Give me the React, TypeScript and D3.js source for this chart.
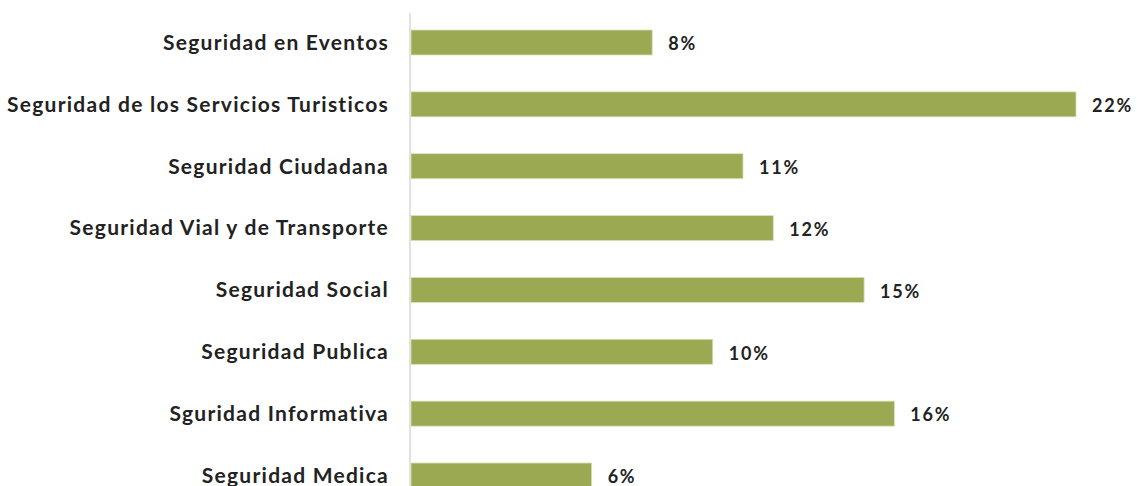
import React from "react";
import * as d3 from "d3";

const categories = [
  "Seguridad en Eventos",
  "Seguridad de los Servicios Turisticos",
  "Seguridad Ciudadana",
  "Seguridad Vial y de Transporte",
  "Seguridad Social",
  "Seguridad Publica",
  "Sguridad Informativa",
  "Seguridad Medica",
];
const values = [8, 22, 11, 12, 15, 10, 16, 6];
const valueLabels = ["8%", "22%", "11%", "12%", "15%", "10%", "16%", "6%"];

const W = 1137;
const H = 486;
const x0 = 410;

export default function App() {
  const x = d3.scaleLinear().domain([0, 22]).range([x0, 1076]);
  const y = d3
    .scaleBand<string>()
    .domain(categories)
    .range([30, 488])
    .paddingInner(0.596)
    .paddingOuter(0);
  const font = "Lato, 'Open Sans', sans-serif";
  return (
    <svg
      width={W}
      height={H}
      style={{ position: "absolute", left: 0, top: 0, background: "#fff" }}
    >
      <line x1={x0} x2={x0} y1={13} y2={H} stroke="#d9d9d9" strokeWidth={1.5} />
      {categories.map((c, i) => {
        const yy = y(c)!;
        const bw = y.bandwidth();
        return (
          <g key={c}>
            <rect
              x={x(0) + 1}
              y={yy}
              width={x(values[i]) - x(0) - 1}
              height={bw}
              fill="#9BAA52"
              stroke="#d8dfb8"
              strokeWidth={0.8}
            />
            <text
              x={389}
              y={yy + bw / 2}
              dy="0.35em"
              textAnchor="end"
              fontFamily={font}
              fontWeight={700}
              fontSize={21}
              letterSpacing={1.25}
              fill="#222"
            >
              {c}
            </text>
            <text
              x={x(values[i]) + 16}
              y={yy + bw / 2 + 1.5}
              dy="0.35em"
              fontFamily={font}
              fontWeight={700}
              fontSize={18}
              letterSpacing={1.8}
              fill="#222"
            >
              {valueLabels[i]}
            </text>
          </g>
        );
      })}
    </svg>
  );
}
